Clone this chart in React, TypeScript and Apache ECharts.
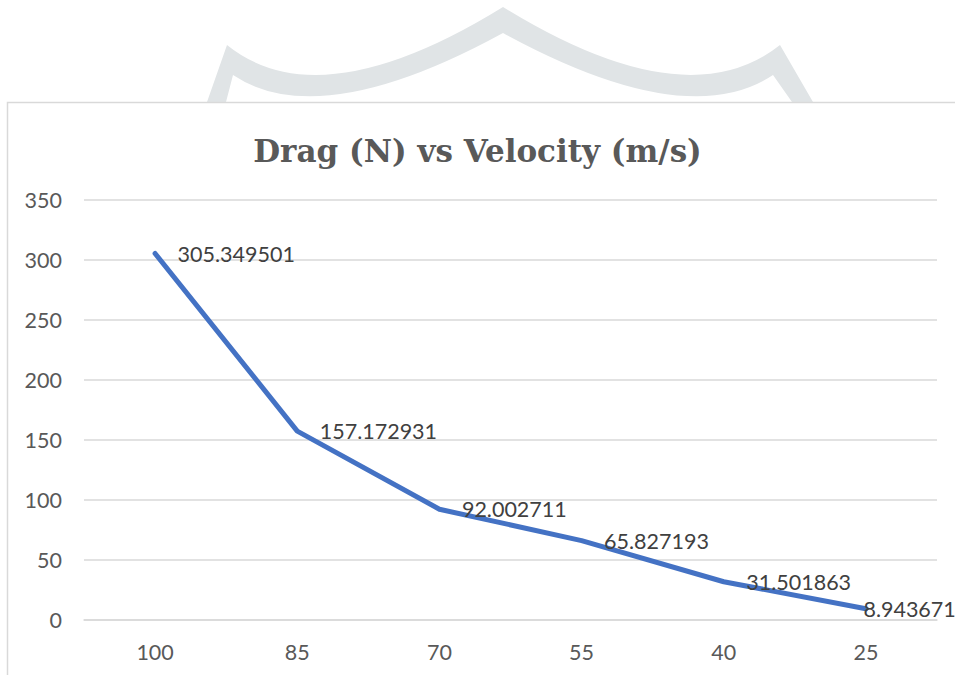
import React, { useEffect, useRef } from "react";
import * as echarts from "echarts";

const titleText = "Drag (N) vs Velocity (m/s)";
const velocities = ["100", "85", "70", "55", "40", "25"];
const drag = [305.349501, 157.172931, 92.002711, 65.827193, 31.501863, 8.943671];
const yTicks = [0, 50, 100, 150, 200, 250, 300, 350];

const watermarkPath =
  "M 207 102 L 227 45 Q 320 120 503 7 Q 686 120 780 45 L 813 102 L 792 102 L 773 75 Q 686 133 503 33 Q 320 133 233 75 L 226 102 Z";

let registered = false;
function ensureShape() {
  if (registered) return;
  echarts.graphic.registerShape("logo", (echarts.graphic as any).extendPath(watermarkPath, {}));
  registered = true;
}

export default function App() {
  const ref = useRef<HTMLDivElement>(null);
  useEffect(() => {
    if (!ref.current) return;
    ensureShape();
    const chart = echarts.init(ref.current, undefined, { renderer: "svg" });
    const lastIdx = drag.length - 1;
    chart.setOption({
      animation: false,
      backgroundColor: "#ffffff",
      title: {
        text: titleText,
        left: "center",
        top: 130,
        textStyle: {
          fontFamily: "DejaVu Serif",
          fontWeight: "bold",
          fontSize: 31,
          color: "#595959",
        },
      },
      graphic: [
        {
          type: "logo",
          x: 0,
          y: 0,
          z: -10,
          silent: true,
          style: { fill: "#e0e4e6", stroke: "none" },
        },
        {
          type: "rect",
          z: -9,
          silent: true,
          shape: { x: 7.5, y: 102.5, width: 1000, height: 700 },
          style: { fill: "#ffffff", stroke: "#d9d9d9", lineWidth: 1.5 },
        },
      ],
      grid: { left: 84, right: 18, top: 200, bottom: 55.5 },
      xAxis: {
        type: "category",
        data: velocities,
        boundaryGap: true,
        axisLine: { show: true, lineStyle: { color: "#d9d9d9", width: 1.5 } },
        axisTick: { show: false },
        axisLabel: {
          margin: 21,
          fontFamily: "Lato",
          fontSize: 21.5,
          color: "#595959",
        },
      },
      yAxis: {
        type: "value",
        min: yTicks[0],
        max: yTicks[yTicks.length - 1],
        interval: 50,
        axisLine: { show: false },
        axisTick: { show: false },
        splitLine: { lineStyle: { color: "#d9d9d9", width: 1.5 } },
        axisLabel: {
          margin: 22,
          fontFamily: "Lato",
          fontSize: 21.5,
          color: "#595959",
        },
      },
      series: [
        {
          type: "line",
          data: drag.map((v, i) =>
            i === lastIdx ? { value: v, label: { distance: -3 } } : v
          ),
          showSymbol: true,
          symbol: "circle",
          symbolSize: 1,
          itemStyle: { color: "#4472C4" },
          lineStyle: { color: "#4472C4", width: 5, cap: "round", join: "round" },
          label: {
            show: true,
            position: "right",
            distance: 22,
            fontFamily: "Lato",
            fontSize: 21.5,
            color: "#404040",
            formatter: (p: any) => String(p.value),
          },
        },
      ],
    });
    return () => chart.dispose();
  }, []);
  return (
    <div
      ref={ref}
      style={{ position: "fixed", left: 0, top: 0, width: 955, height: 675 }}
    />
  );
}
